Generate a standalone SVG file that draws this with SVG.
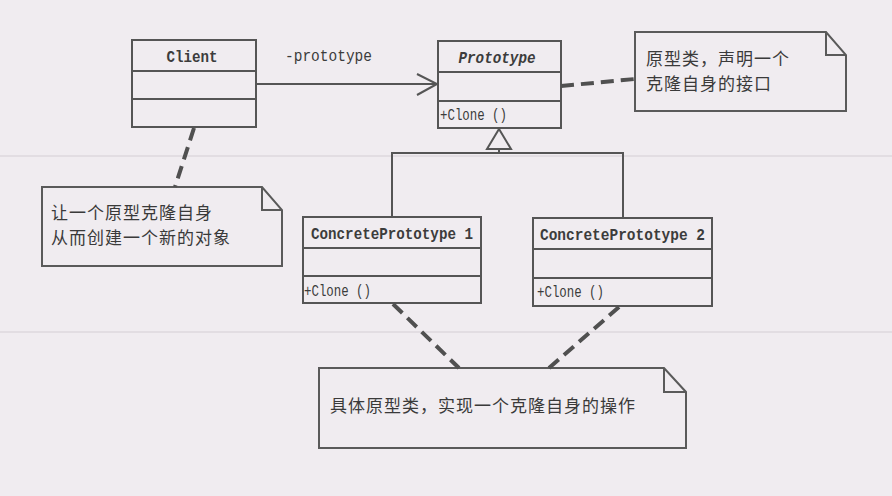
<svg xmlns="http://www.w3.org/2000/svg" width="892" height="496" viewBox="0 0 892 496">
<style>
.bg{fill:#f0ecf0}
.faint{stroke:#e2dde2;stroke-width:2;fill:none}
.box{fill:none;stroke:#555;stroke-width:2}
.note{fill:none;stroke:#5a5a5a;stroke-width:2;stroke-linejoin:miter}
.cls{font-family:"Liberation Mono","DejaVu Sans Mono",monospace;font-weight:bold;font-size:17px;fill:#3c3c3c}
.op{font-family:"Liberation Mono","DejaVu Sans Mono",monospace;font-size:16px;fill:#3c3c3c}
.cjk{font-family:"Noto Sans CJK SC","Noto Sans",sans-serif;font-size:17px;letter-spacing:1px;fill:#3a3a3a}
.line{stroke:#555;stroke-width:2;fill:none}
.dash{stroke:#505050;stroke-width:4;stroke-dasharray:13 7;fill:none}
</style>
<rect class="bg" x="0" y="0" width="892" height="496"/>
<line class="faint" x1="0" y1="156" x2="892" y2="156"/>
<line class="faint" x1="0" y1="332" x2="892" y2="332"/>

<g id="Client">
  <rect class="box" x="132" y="40" width="124" height="87"/>
  <line class="box" x1="132" y1="71" x2="256" y2="71"/>
  <line class="box" x1="132" y1="99" x2="256" y2="99"/>
  <text class="cls" x="192" y="62" text-anchor="middle" textLength="51" lengthAdjust="spacingAndGlyphs">Client</text>
</g>

<g id="Prototype">
  <rect class="box" x="438" y="41" width="123" height="87"/>
  <line class="box" x1="438" y1="72" x2="561" y2="72"/>
  <line class="box" x1="438" y1="101" x2="561" y2="101"/>
  <text class="cls" x="497" y="63" font-style="italic" text-anchor="middle" textLength="77" lengthAdjust="spacingAndGlyphs">Prototype</text>
  <text class="op" x="440" y="120" textLength="67" lengthAdjust="spacingAndGlyphs">+Clone ()</text>
</g>

<g id="ConcretePrototype1">
  <rect class="box" x="303" y="217" width="178" height="86"/>
  <line class="box" x1="303" y1="248" x2="481" y2="248"/>
  <line class="box" x1="303" y1="276" x2="481" y2="276"/>
  <text class="cls" x="311" y="239" textLength="162" lengthAdjust="spacingAndGlyphs">ConcretePrototype 1</text>
  <text class="op" x="304" y="296" textLength="67" lengthAdjust="spacingAndGlyphs">+Clone ()</text>
</g>

<g id="ConcretePrototype2">
  <rect class="box" x="533" y="218" width="179" height="88"/>
  <line class="box" x1="533" y1="249" x2="712" y2="249"/>
  <line class="box" x1="533" y1="278" x2="712" y2="278"/>
  <text class="cls" x="540" y="240" textLength="165" lengthAdjust="spacingAndGlyphs">ConcretePrototype 2</text>
  <text class="op" x="537" y="297" textLength="67" lengthAdjust="spacingAndGlyphs">+Clone ()</text>
</g>

<g id="NotePrototype">
  <path class="note" d="M635,32 H826 L846,55 V111 H635 Z M826,32 V55 H846"/>
  <text class="cjk" x="646" y="65"><tspan x="646" y="65">原型类，声明一个</tspan><tspan x="646" y="90">克隆自身的接口</tspan></text>
</g>

<g id="NoteClient">
  <path class="note" d="M42,187 H262 L282,210 V266 H42 Z M262,187 V210 H282"/>
  <text class="cjk" x="51" y="219"><tspan x="51" y="219">让一个原型克隆自身</tspan><tspan x="51" y="244">从而创建一个新的对象</tspan></text>
</g>

<g id="NoteConcrete">
  <path class="note" d="M319,368 H664 L686,392 V448 H319 Z M664,368 V392 H686"/>
  <text class="cjk" x="330" y="412">具体原型类，实现一个克隆自身的操作</text>
</g>

<g id="connectors">
  <line class="line" x1="256" y1="84" x2="437" y2="84"/>
  <polyline class="line" points="417,74 437,84 417,95"/>
  <text class="op" x="285" y="61" textLength="87" lengthAdjust="spacingAndGlyphs">-prototype</text>
  <polygon points="499,129 487,149 511,149" fill="#f0ecf0" stroke="#555" stroke-width="2"/>
  <polyline class="line" points="499,149 499,153"/>
  <polyline class="line" points="392,217 392,153 623,153 623,218"/>
  <line class="dash" x1="561" y1="86" x2="635" y2="79"/>
  <line class="dash" x1="194" y1="128" x2="175" y2="187"/>
  <line class="dash" x1="393" y1="304" x2="459" y2="368"/>
  <line class="dash" x1="619" y1="307" x2="549" y2="368"/>
</g>
</svg>
